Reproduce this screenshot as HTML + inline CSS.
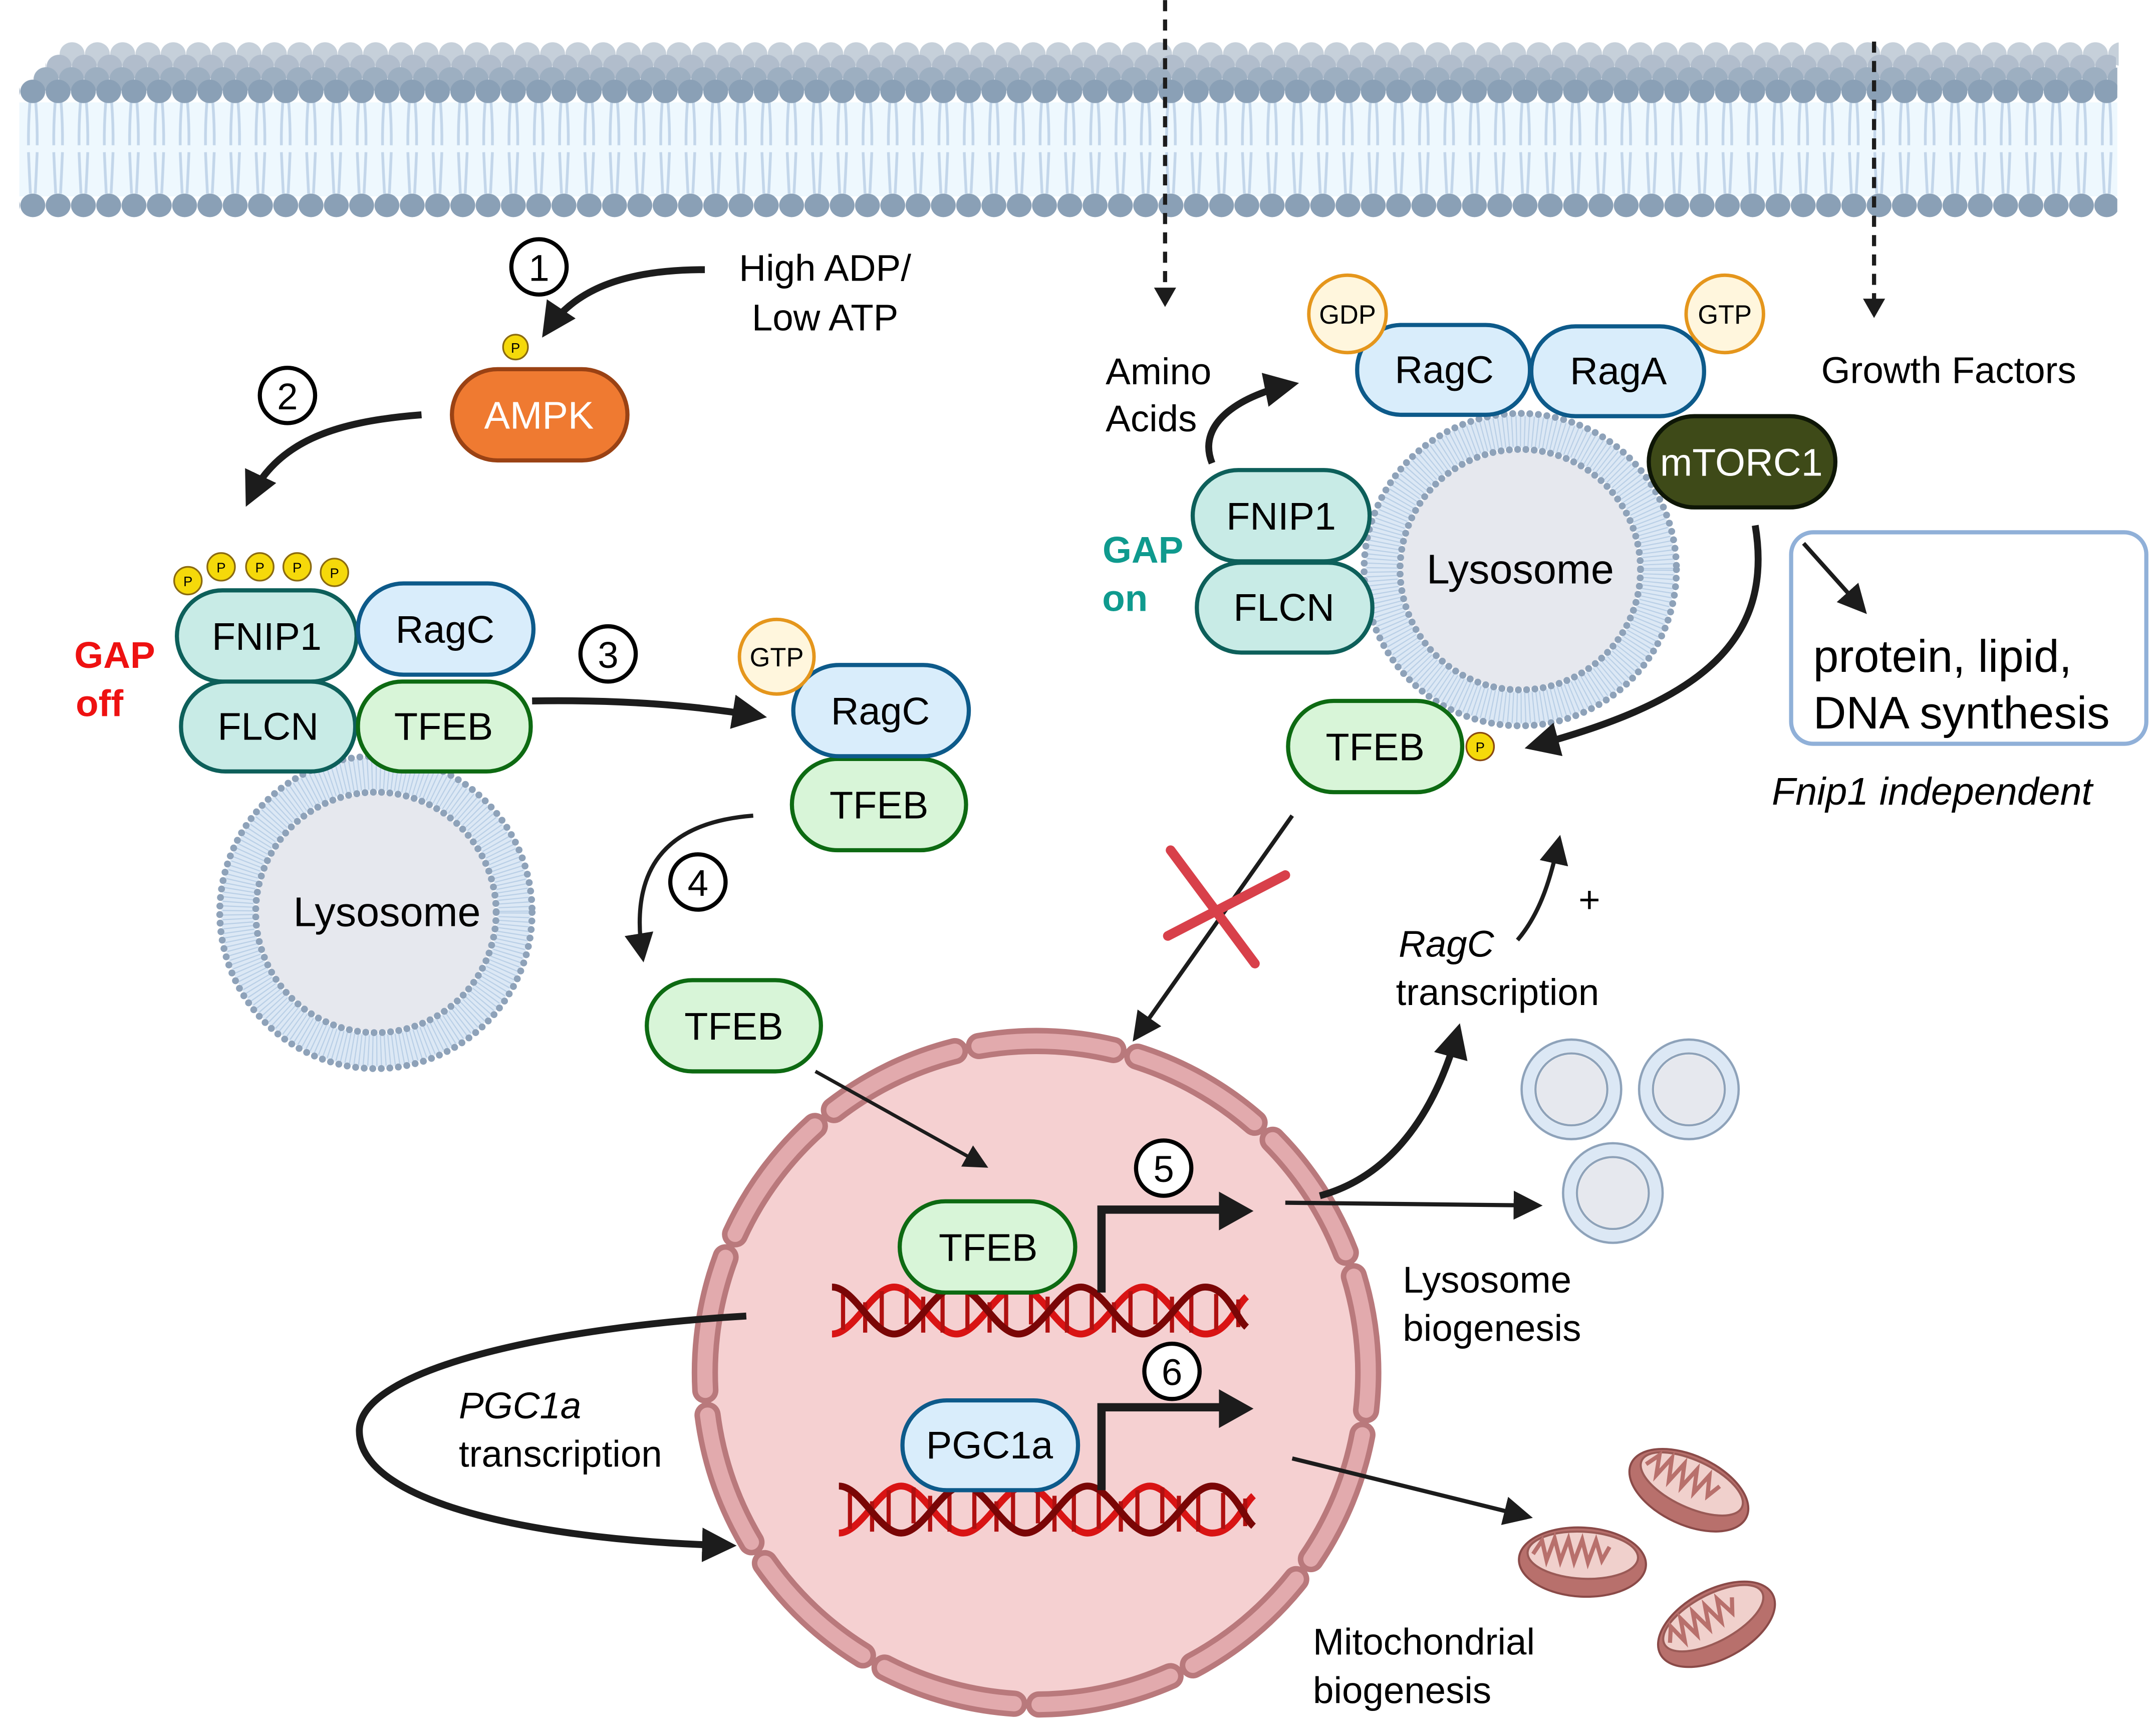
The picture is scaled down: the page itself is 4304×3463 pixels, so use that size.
<!DOCTYPE html>
<html><head><meta charset="utf-8"><style>
html,body{margin:0;padding:0;background:#fff}
svg{display:block}
text{font-family:"Liberation Sans",sans-serif}
</style></head><body>
<svg width="4304" height="3463" viewBox="0 0 1560 1255" xmlns="http://www.w3.org/2000/svg">
<defs>
<pattern id="h0" patternUnits="userSpaceOnUse" x="43" y="0" width="18.3" height="300"><ellipse cx="9.15" cy="39" rx="9" ry="8.5" fill="#c6d0da"/></pattern>
<pattern id="h1" patternUnits="userSpaceOnUse" x="33.6" y="0" width="18.3" height="300"><ellipse cx="9.15" cy="48" rx="9" ry="8.5" fill="#b1bdcc"/></pattern>
<pattern id="h2" patternUnits="userSpaceOnUse" x="24.2" y="0" width="18.3" height="300"><ellipse cx="9.15" cy="57" rx="9" ry="8.5" fill="#9dafc1"/></pattern>
<pattern id="h3" patternUnits="userSpaceOnUse" x="14.6" y="0" width="18.3" height="300"><ellipse cx="9.15" cy="66" rx="9" ry="8.5" fill="#8aa0b6"/><ellipse cx="9.15" cy="148.5" rx="9" ry="8.5" fill="#8aa0b6"/></pattern>
<pattern id="tl" patternUnits="userSpaceOnUse" x="14.6" y="0" width="18.3" height="300"><path d="M7,74 Q5.8,90 6,105 M11.3,74 Q12.5,90 12.3,105 M6,110 Q6.6,125 7.4,140 M12.3,110 Q11.7,125 10.9,140" stroke="#c3d6ea" stroke-width="2" fill="none"/></pattern>
<marker id="ah" viewBox="0 0 10 10" refX="8" refY="5" markerWidth="5" markerHeight="5" orient="auto" markerUnits="strokeWidth"><path d="M0,0 L10,5 L0,10 z" fill="#1c1c1c"/></marker>
<marker id="ahs" viewBox="0 0 10 10" refX="8" refY="5" markerWidth="7" markerHeight="7" orient="auto" markerUnits="strokeWidth"><path d="M0,0 L10,5 L0,10 z" fill="#1c1c1c"/></marker>
<g id="lyso">
<circle r="100" fill="none" stroke="#dce8f5" stroke-width="24"/>
<circle r="100" fill="none" stroke="#b9cfe6" stroke-width="22" stroke-dasharray="0.8 2.2"/>
<circle r="86" fill="#e6e8ee"/>
<circle r="113" fill="none" stroke="#8ea2b9" stroke-width="5" stroke-dasharray="0 6.2" stroke-linecap="round"/>
<circle r="87" fill="none" stroke="#8ea2b9" stroke-width="5" stroke-dasharray="0 6" stroke-linecap="round"/>
</g>
<g id="ves">
<circle r="32" fill="none" stroke="#dce8f5" stroke-width="10"/>
<circle r="25" fill="#e6e8ee"/>
<circle r="36" fill="none" stroke="#8ea2b9" stroke-width="1.6"/>
<circle r="26" fill="none" stroke="#8ea2b9" stroke-width="1.6"/>
</g>
<g id="dna">
<path d="M0,17 C16,17 29,-17 45,-17 S74,17 90,17 S119,-17 135,-17 S164,17 180,17 S209,-17 225,-17 S254,17 270,17 S292,-3 300,-10" fill="none" stroke="#d91414" stroke-width="5"/>
<g stroke="#b01010" stroke-width="3">
<path d="M8,-12V14 M24,-6V16 M36,-14V12 M54,-16V10 M66,-10V16 M80,-14V16 M98,-12V14 M114,-6V16 M126,-14V12 M144,-16V10 M156,-10V16 M170,-14V16 M188,-12V14 M204,-6V16 M216,-14V12 M234,-16V10 M246,-10V16 M260,-14V16 M278,-12V14 M294,-8V12"/>
</g>
<path d="M0,-17 C16,-17 29,17 45,17 S74,-17 90,-17 S119,17 135,17 S164,-17 180,-17 S209,17 225,17 S254,-17 270,-17 S292,5 300,12" fill="none" stroke="#7a0606" stroke-width="5"/>
</g>
<g id="mito">
<ellipse rx="46" ry="25" fill="#b8706c" stroke="#8a4a48" stroke-width="1.5"/>
<ellipse cx="0" cy="-5" rx="40" ry="17" fill="#f0d0cc" stroke="#9a5a56" stroke-width="1.5"/>
<path d="M-36,-4 l6,-10 l4,14 l5,-16 l5,16 l5,-16 l5,16 l5,-16 l5,16 l5,-16 l5,14 l5,-10" fill="none" stroke="#b8706c" stroke-width="3"/>
</g>
</defs>

<!-- membrane -->
<rect x="14" y="74" width="1518" height="68" fill="#eef8fe"/>
<rect x="14" y="70" width="1518" height="74" fill="url(#tl)"/>
<rect x="43" y="28" width="1490" height="20" fill="url(#h0)"/>
<rect x="33" y="38" width="1498" height="20" fill="url(#h1)"/>
<rect x="24" y="46" width="1508" height="20" fill="url(#h2)"/>
<rect x="14" y="55" width="1518" height="22" fill="url(#h3)"/>
<rect x="14" y="138" width="1518" height="22" fill="url(#h3)"/>

<!-- dashed arrows -->
<path d="M843,0 V210" stroke="#1c1c1c" stroke-width="3" stroke-dasharray="8 6" fill="none"/>
<path d="M835,208 L843,222 L851,208 z" fill="#1c1c1c"/>
<path d="M1356,30 V218" stroke="#1c1c1c" stroke-width="3" stroke-dasharray="8 6" fill="none"/>
<path d="M1348,216 L1356,230 L1364,216 z" fill="#1c1c1c"/>

<!-- step 1 -->
<circle cx="390" cy="193" r="20" fill="#fff" stroke="#000" stroke-width="3"/>
<text x="390" y="203" font-size="27" text-anchor="middle">1</text>
<text x="597" y="203" font-size="27" text-anchor="middle">High ADP/</text>
<text x="597" y="239" font-size="27" text-anchor="middle">Low ATP</text>
<path d="M510,195 C450,195 415,210 395,240" fill="none" stroke="#1c1c1c" stroke-width="5" marker-end="url(#ah)"/>
<circle cx="373" cy="251" r="9" fill="#f5d90a" stroke="#8a6a10" stroke-width="1.2"/>
<text x="373" y="255" font-size="10" text-anchor="middle">P</text>
<rect x="327" y="267" width="127" height="66" rx="33" fill="#ef7a31" stroke="#9a4214" stroke-width="3"/>
<text x="390" y="310" font-size="28" fill="#fff" text-anchor="middle">AMPK</text>

<!-- step 2 -->
<circle cx="208" cy="286" r="20" fill="#fff" stroke="#000" stroke-width="3"/>
<text x="208" y="296" font-size="27" text-anchor="middle">2</text>
<path d="M305,300 C240,305 200,320 180,362" fill="none" stroke="#1c1c1c" stroke-width="5" marker-end="url(#ah)"/>

<!-- left lysosome complex -->
<use href="#lyso" x="272" y="660"/>
<text x="280" y="670" font-size="30" text-anchor="middle">Lysosome</text>
<g font-size="10" text-anchor="middle">
<circle cx="136" cy="420" r="10" fill="#f5d90a" stroke="#8a6a10" stroke-width="1.2"/><text x="136" y="424">P</text>
<circle cx="160" cy="410" r="10" fill="#f5d90a" stroke="#8a6a10" stroke-width="1.2"/><text x="160" y="414">P</text>
<circle cx="188" cy="410" r="10" fill="#f5d90a" stroke="#8a6a10" stroke-width="1.2"/><text x="188" y="414">P</text>
<circle cx="215" cy="410" r="10" fill="#f5d90a" stroke="#8a6a10" stroke-width="1.2"/><text x="215" y="414">P</text>
<circle cx="242" cy="414" r="10" fill="#f5d90a" stroke="#8a6a10" stroke-width="1.2"/><text x="242" y="418">P</text>
</g>
<g font-size="28" text-anchor="middle">
<rect x="131" y="493" width="126" height="65" rx="32" fill="#c8ebe6" stroke="#0d5f5a" stroke-width="3"/><text x="194" y="535">FLCN</text>
<rect x="128" y="427" width="130" height="66" rx="33" fill="#c8ebe6" stroke="#0d5f5a" stroke-width="3"/><text x="193" y="470">FNIP1</text>
<rect x="259" y="422" width="127" height="66" rx="33" fill="#d9edfb" stroke="#0d5a8a" stroke-width="3"/><text x="322" y="465">RagC</text>
<rect x="259" y="493" width="125" height="65" rx="32" fill="#d8f5d8" stroke="#0d6a12" stroke-width="3"/><text x="321" y="535">TFEB</text>
</g>
<text x="83" y="483" font-size="27" font-weight="bold" fill="#ee1111" text-anchor="middle">GAP</text>
<text x="72" y="518" font-size="27" font-weight="bold" fill="#ee1111" text-anchor="middle">off</text>

<!-- step 3 -->
<circle cx="440" cy="473" r="20" fill="#fff" stroke="#000" stroke-width="3"/>
<text x="440" y="483" font-size="27" text-anchor="middle">3</text>
<path d="M385,507 C450,506 500,510 550,518" fill="none" stroke="#1c1c1c" stroke-width="5" marker-end="url(#ah)"/>
<g font-size="28" text-anchor="middle">
<rect x="573" y="549" width="126" height="66" rx="33" fill="#d8f5d8" stroke="#0d6a12" stroke-width="3"/><text x="636" y="592">TFEB</text>
<rect x="574" y="481" width="127" height="66" rx="33" fill="#d9edfb" stroke="#0d5a8a" stroke-width="3"/><text x="637" y="524">RagC</text>
</g>
<circle cx="562" cy="475" r="27" fill="#fff6dd" stroke="#e5961c" stroke-width="2.5"/>
<text x="562" y="482" font-size="19" text-anchor="middle">GTP</text>

<!-- step 4 -->
<circle cx="505" cy="638" r="20" fill="#fff" stroke="#000" stroke-width="3"/>
<text x="505" y="648" font-size="27" text-anchor="middle">4</text>
<path d="M545,590 C480,595 455,630 465,692" fill="none" stroke="#1c1c1c" stroke-width="3" marker-end="url(#ahs)"/>
<rect x="468" y="709" width="126" height="66" rx="33" fill="#d8f5d8" stroke="#0d6a12" stroke-width="3"/>
<text x="531" y="752" font-size="28" text-anchor="middle">TFEB</text>

<!-- nucleus -->
<circle cx="750" cy="993" r="243" fill="#f5d0d1"/>
<circle cx="750" cy="993" r="240" fill="none" stroke="#b9797c" stroke-width="19" stroke-dasharray="98 18" stroke-linecap="round" transform="rotate(-100 750 993)"/>
<circle cx="750" cy="993" r="240" fill="none" stroke="#e2aaad" stroke-width="11" stroke-dasharray="98 18" stroke-linecap="round" transform="rotate(-100 750 993)"/>
<path d="M590,775 L712,843" fill="none" stroke="#1c1c1c" stroke-width="2.5" marker-end="url(#ahs)"/>

<use href="#dna" x="602" y="948"/>
<rect x="651" y="869" width="127" height="66" rx="33" fill="#d8f5d8" stroke="#0d6a12" stroke-width="3"/>
<text x="715" y="912" font-size="28" text-anchor="middle">TFEB</text>
<path d="M797,935 V875 H885" fill="none" stroke="#1c1c1c" stroke-width="6"/>
<path d="M882,862 L907,876 L882,890 z" fill="#1c1c1c"/>
<circle cx="842" cy="845" r="20" fill="#fff" stroke="#000" stroke-width="3"/>
<text x="842" y="855" font-size="27" text-anchor="middle">5</text>

<use href="#dna" x="607" y="1092"/>
<rect x="653" y="1013" width="127" height="65" rx="32" fill="#d9edfb" stroke="#0d5a8a" stroke-width="3"/>
<text x="716" y="1055" font-size="28" text-anchor="middle">PGC1a</text>
<path d="M797,1078 V1018 H885" fill="none" stroke="#1c1c1c" stroke-width="6"/>
<path d="M882,1005 L907,1019 L882,1033 z" fill="#1c1c1c"/>
<circle cx="848" cy="992" r="20" fill="#fff" stroke="#000" stroke-width="3"/>
<text x="848" y="1002" font-size="27" text-anchor="middle">6</text>

<!-- PGC1a loop -->
<path d="M540,952 C400,960 260,990 260,1035 C260,1090 400,1115 528,1118" fill="none" stroke="#1c1c1c" stroke-width="5" marker-end="url(#ah)"/>
<text x="332" y="1026" font-size="27" font-style="italic">PGC1a</text>
<text x="332" y="1061" font-size="27">transcription</text>

<!-- outputs -->
<path d="M930,870 L1112,872" fill="none" stroke="#1c1c1c" stroke-width="3" marker-end="url(#ahs)"/>
<use href="#ves" x="1137" y="788"/>
<use href="#ves" x="1222" y="788"/>
<use href="#ves" x="1167" y="863"/>
<text x="1015" y="935" font-size="27">Lysosome</text>
<text x="1015" y="970" font-size="27">biogenesis</text>
<path d="M935,1055 L1105,1097" fill="none" stroke="#1c1c1c" stroke-width="3" marker-end="url(#ahs)"/>
<use href="#mito" transform="translate(1222,1078) rotate(25)"/>
<use href="#mito" transform="translate(1145,1130) rotate(3)"/>
<use href="#mito" transform="translate(1242,1175) rotate(-28)"/>
<text x="950" y="1197" font-size="27">Mitochondrial</text>
<text x="950" y="1232" font-size="27">biogenesis</text>

<!-- RagC transcription -->
<path d="M955,865 C1010,850 1040,800 1055,745" fill="none" stroke="#1c1c1c" stroke-width="5" marker-end="url(#ah)"/>
<text x="1012" y="692" font-size="27" font-style="italic">RagC</text>
<text x="1010" y="727" font-size="27">transcription</text>
<path d="M1098,680 C1115,660 1122,635 1128,608" fill="none" stroke="#1c1c1c" stroke-width="3" marker-end="url(#ahs)"/>
<text x="1150" y="660" font-size="27" text-anchor="middle">+</text>

<!-- blocked arrow -->
<path d="M935,590 L822,750" fill="none" stroke="#1c1c1c" stroke-width="3" marker-end="url(#ahs)"/>
<path d="M847,615 L908,697 M930,633 L845,677" stroke="#d8404a" stroke-width="7" stroke-linecap="round"/>

<!-- right complex -->
<text x="800" y="278" font-size="27">Amino</text>
<text x="800" y="312" font-size="27">Acids</text>
<path d="M877,335 C865,305 900,285 935,278" fill="none" stroke="#1c1c1c" stroke-width="5" marker-end="url(#ah)"/>
<text x="1410" y="277" font-size="27" text-anchor="middle">Growth Factors</text>
<use href="#lyso" x="1100" y="412"/>
<text x="1100" y="422" font-size="30" text-anchor="middle">Lysosome</text>
<g font-size="28" text-anchor="middle">
<rect x="982" y="235" width="125" height="65" rx="32" fill="#d9edfb" stroke="#0d5a8a" stroke-width="3"/><text x="1045" y="277">RagC</text>
<rect x="1108" y="236" width="125" height="65" rx="32" fill="#d9edfb" stroke="#0d5a8a" stroke-width="3"/><text x="1171" y="278">RagA</text>
<rect x="1193" y="301" width="135" height="66" rx="33" fill="#3e4a18" stroke="#0e1606" stroke-width="3"/><text x="1260" y="344" fill="#fff">mTORC1</text>
<rect x="866" y="407" width="127" height="65" rx="32" fill="#c8ebe6" stroke="#0d5f5a" stroke-width="3"/><text x="929" y="449">FLCN</text>
<rect x="863" y="340" width="128" height="66" rx="33" fill="#c8ebe6" stroke="#0d5f5a" stroke-width="3"/><text x="927" y="383">FNIP1</text>
<rect x="932" y="507" width="126" height="66" rx="33" fill="#d8f5d8" stroke="#0d6a12" stroke-width="3"/><text x="995" y="550">TFEB</text>
</g>
<circle cx="975" cy="227" r="28" fill="#fff6dd" stroke="#e5961c" stroke-width="2.5"/>
<text x="975" y="234" font-size="19" text-anchor="middle">GDP</text>
<circle cx="1248" cy="227" r="28" fill="#fff6dd" stroke="#e5961c" stroke-width="2.5"/>
<text x="1248" y="234" font-size="19" text-anchor="middle">GTP</text>
<circle cx="1071" cy="540" r="10" fill="#f5d90a" stroke="#8a4a10" stroke-width="1.2"/>
<text x="1071" y="544" font-size="10" text-anchor="middle">P</text>
<text x="827" y="407" font-size="27" font-weight="bold" fill="#0f9a8e" text-anchor="middle">GAP</text>
<text x="814" y="442" font-size="27" font-weight="bold" fill="#0f9a8e" text-anchor="middle">on</text>
<path d="M1270,380 C1285,470 1220,510 1108,540" fill="none" stroke="#1c1c1c" stroke-width="5" marker-end="url(#ah)"/>

<rect x="1296" y="385" width="257" height="153" rx="16" fill="#fff" stroke="#90b0d8" stroke-width="3"/>
<path d="M1305,393 L1348,441" fill="none" stroke="#1c1c1c" stroke-width="3" marker-end="url(#ahs)"/>
<text x="1312" y="486" font-size="33">protein, lipid,</text>
<text x="1312" y="527" font-size="33">DNA synthesis</text>
<text x="1398" y="582" font-size="28" font-style="italic" text-anchor="middle">Fnip1 independent</text>
</svg>
</body></html>
